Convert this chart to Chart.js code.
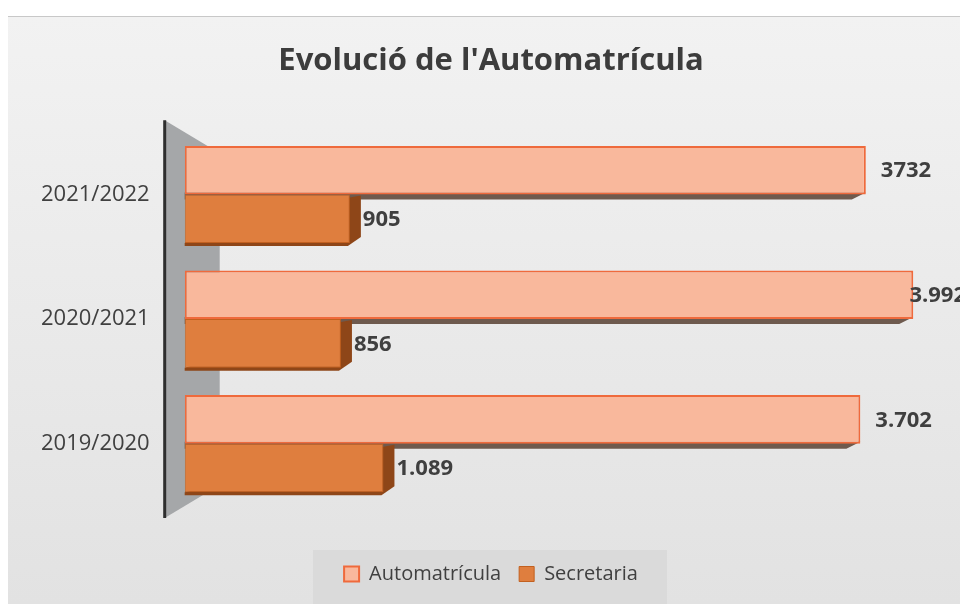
<!DOCTYPE html>
<html>
<head>
<meta charset="utf-8">
<script src="https://cdn.jsdelivr.net/npm/chart.js@4/dist/chart.umd.min.js"></script>
<style>
  html, body { margin: 0; padding: 0; background: #fff; }
  #wrap { width: 960px; height: 604px; }
</style>
</head>
<body>
<div id="wrap"><canvas id="chartCanvas" width="960" height="604"></canvas></div>
<script>
const categories = ["2021/2022", "2020/2021", "2019/2020"];
const autoValues = [3732, 3992, 3702];
const secValues = [905, 856, 1089];
const autoLabels = ["3732", "3.992", "3.702"];
const secLabels = ["905", "856", "1.089"];

const AUTO_FILL = "#f9b89c";
const AUTO_BORDER = "#ef6a3c";
const SEC_FILL = "#df7e3e";
const SEC_BORDER = "#c2601f";
const FONT = "'Open Sans', sans-serif";

// fons gris del gràfic + caixa de la llegenda
const backgroundPlugin = {
  id: "bg",
  beforeDraw(chart) {
    const ctx = chart.ctx;
    ctx.save();
    ctx.fillStyle = "#ffffff";
    ctx.fillRect(0, 0, chart.width, chart.height);
    const grad = ctx.createLinearGradient(0, 16, 0, chart.height);
    grad.addColorStop(0, "#f2f2f2");
    grad.addColorStop(1, "#e2e2e2");
    ctx.fillStyle = grad;
    ctx.fillRect(8, 16, chart.width - 8, chart.height - 16);
    ctx.strokeStyle = "#c8c8c8";
    ctx.beginPath();
    ctx.moveTo(8, 16.5);
    ctx.lineTo(chart.width, 16.5);
    ctx.stroke();
    const lg = chart.legend;
    if (lg) {
      const cx = lg.left + lg.width / 2;
      ctx.fillStyle = "#dadada";
      ctx.fillRect(cx - 178, lg.top + 4, 354, 54);
    }
    ctx.restore();
  },
  beforeDatasetsDraw(chart) {
    // paret 3D a l'esquerra
    const ctx = chart.ctx;
    const a = chart.chartArea;
    const x0 = a.left - 20;
    const x1 = a.left + 35;
    ctx.save();
    ctx.fillStyle = "#a5a7a9";
    ctx.beginPath();
    ctx.moveTo(x0, a.top - 12);
    ctx.lineTo(x1, a.top + 21);
    ctx.lineTo(x1, a.bottom - 21);
    ctx.lineTo(x0, a.bottom + 12);
    ctx.closePath();
    ctx.fill();
    ctx.strokeStyle = "#2e2e2e";
    ctx.lineWidth = 3;
    ctx.beginPath();
    ctx.moveTo(x0, a.top - 12);
    ctx.lineTo(x0, a.bottom + 12);
    ctx.stroke();
    // cares fosques de les barres (efecte 3D)
    chart.data.datasets.forEach((ds, di) => {
      const meta = chart.getDatasetMeta(di);
      meta.data.forEach(bar => {
        const top = bar.y - bar.height / 2;
        const bot = bar.y + bar.height / 2;
        ctx.beginPath();
        if (di === 0) {
          ctx.fillStyle = "#6e5a4e";
          ctx.moveTo(bar.base, bot - 2);
          ctx.lineTo(bar.x, bot - 2);
          ctx.lineTo(bar.x - 14, bot + 5);
          ctx.lineTo(bar.base, bot + 5);
        } else {
          ctx.fillStyle = "#8e4618";
          ctx.moveTo(bar.x, top + 3);
          ctx.lineTo(bar.x + 11, top + 1);
          ctx.lineTo(bar.x + 11, bot - 6);
          ctx.lineTo(bar.x - 2, bot + 3);
          ctx.lineTo(bar.base, bot + 3);
          ctx.lineTo(bar.base, bot);
        }
        ctx.closePath();
        ctx.fill();
      });
    });
    ctx.restore();
  }
};

// etiquetes de valor
const valueLabelPlugin = {
  id: "valueLabels",
  afterDatasetsDraw(chart) {
    const ctx = chart.ctx;
    ctx.save();
    ctx.font = "bold 22px " + FONT;
    ctx.fillStyle = "#3f3f3f";
    ctx.textBaseline = "middle";
    ctx.textAlign = "left";
    const texts = [autoLabels, secLabels];
    chart.data.datasets.forEach((ds, di) => {
      chart.getDatasetMeta(di).data.forEach((bar, i) => {
        const txt = texts[di][i];
        let x = bar.x + (di === 0 ? 15 : 13);
        const w = ctx.measureText(txt).width;
        // com a l'original: si no hi cap, l'etiqueta es desplaça cap a l'esquerra
        if (x + w > chart.width + 6) x = chart.width + 6 - w;
        ctx.fillText(txt, x, bar.y + 1);
      });
    });
    ctx.restore();
  }
};

new Chart(document.getElementById("chartCanvas"), {
  type: "bar",
  data: {
    labels: categories,
    datasets: [
      {
        label: "Automatrícula",
        data: autoValues,
        backgroundColor: AUTO_FILL,
        borderColor: AUTO_BORDER,
        borderWidth: 2,
        borderSkipped: false
      },
      {
        label: "Secretaria",
        data: secValues,
        backgroundColor: SEC_FILL,
        borderColor: SEC_BORDER,
        borderWidth: 1,
        borderSkipped: false
      }
    ]
  },
  options: {
    indexAxis: "y",
    responsive: false,
    animation: false,
    layout: { padding: { left: 14, right: -8, top: 10, bottom: 10 } },
    datasets: {
      bar: { categoryPercentage: 0.78, barPercentage: 1.0 }
    },
    scales: {
      x: {
        display: true,
        min: 0,
        max: 4248,
        grid: { display: false },
        border: { display: false },
        ticks: { display: false },
        afterFit(scale) { scale.height = 40; }
      },
      y: {
        grid: { display: false },
        border: { display: false },
        ticks: {
          color: "#404040",
          padding: 27,
          font: { family: FONT, size: 22 }
        }
      }
    },
    plugins: {
      title: {
        display: true,
        text: "Evolució de l'Automatrícula",
        color: "#3c3c3c",
        font: { family: FONT, size: 31, weight: "bold" },
        padding: { top: 33, bottom: 52 }
      },
      legend: {
        position: "bottom",
        labels: {
          color: "#404040",
          boxWidth: 15,
          boxHeight: 15,
          padding: 18,
          font: { family: FONT, size: 20 }
        }
      },
      tooltip: { enabled: false }
    }
  },
  plugins: [backgroundPlugin, valueLabelPlugin]
});
</script>
</body>
</html>
